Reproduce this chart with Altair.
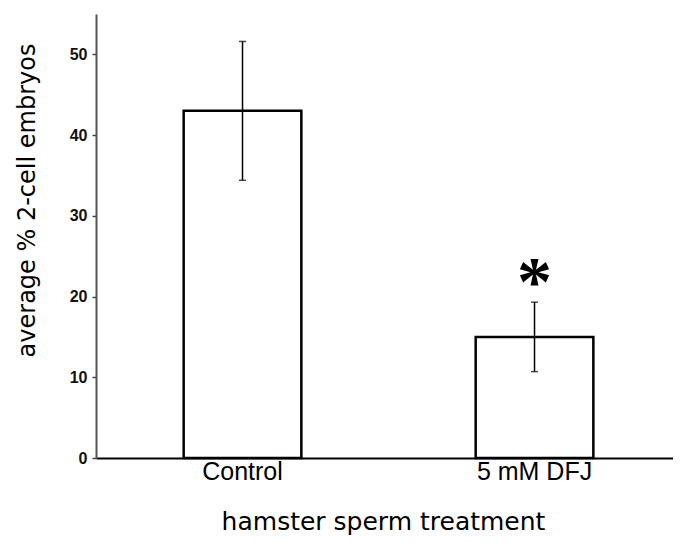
import altair as alt
import pandas as pd

categories = ["Control", "5 mM DFJ"]
means = [43.0, 15.0]
err_low = [34.4, 10.7]
err_high = [51.6, 19.3]
marker = ["", "*"]
marker_y = [0.0, 23.0]
y_ticks = [0, 10, 20, 30, 40, 50]

df = pd.DataFrame({
    "cat": categories,
    "mean": means,
    "lo": err_low,
    "hi": err_high,
    "marker": marker,
    "my": marker_y,
})

x = alt.X(
    "cat:N",
    sort=categories,
    scale=alt.Scale(paddingInner=0.597, paddingOuter=0.2865, align=0.524),
    axis=alt.Axis(
        title="hamster sperm treatment",
        labelAngle=0,
        ticks=False,
        labelPadding=1,
        labelFontSize=25,
        labelFont="Liberation Sans",
        labelColor="black",
        domainColor="black",
        domainWidth=2,
        titleFontSize=25,
        titleFont="DejaVu Sans",
        titleFontWeight="normal",
        titleColor="black",
        titleX=287,
        titleY=71,
        titleBaseline="alphabetic",
    ),
)

yscale = alt.Scale(domain=[0, 55], nice=False)

bars = alt.Chart(df).mark_bar(fill="white", stroke="black", strokeWidth=2.5).encode(
    x=x,
    y=alt.Y(
        "mean:Q",
        scale=yscale,
        axis=alt.Axis(
            title="average % 2-cell embryos",
            values=y_ticks,
            grid=False,
            tickSize=4,
            tickColor="#444",
            tickWidth=1.5,
            domainColor="#555",
            domainWidth=2,
            labelFont="Liberation Sans",
            labelFontWeight="bold",
            labelFontSize=16,
            labelColor="#111",
            labelPadding=5,
            titleFont="DejaVu Sans",
            titleFontSize=24,
            titleFontWeight="normal",
            titleColor="black",
            titleAngle=270,
            titleX=-69,
            titleY=186,
            titleBaseline="middle",
        ),
    ),
)

rules = alt.Chart(df).mark_rule(color="black", strokeWidth=1.5).encode(
    x=alt.X("cat:N", sort=categories),
    y=alt.Y("lo:Q", scale=yscale),
    y2="hi:Q",
)

cap_hi = alt.Chart(df).mark_tick(orient="horizontal", size=7, thickness=1.5, color="black").encode(
    x=alt.X("cat:N", sort=categories),
    y=alt.Y("hi:Q", scale=yscale),
)
cap_lo = alt.Chart(df).mark_tick(orient="horizontal", size=7, thickness=1.5, color="black").encode(
    x=alt.X("cat:N", sort=categories),
    y=alt.Y("lo:Q", scale=yscale),
)

star = alt.Chart(df).transform_filter("datum.marker != ''").mark_text(
    font="Liberation Serif", fontWeight="bold", fontSize=70, baseline="middle",
    color="black", dy=12,
).encode(
    x=alt.X("cat:N", sort=categories),
    y=alt.Y("my:Q", scale=yscale),
    text="marker:N",
)

chart = alt.layer(bars, rules, cap_hi, cap_lo, star).properties(
    width=577,
    height=444,
    padding={"left": 88, "top": 6, "right": 0, "bottom": 78},
    autosize=alt.AutoSizeParams(type="none"),
).configure_view(stroke=None)

chart.save("out.html", embed_options={"renderer": "svg", "actions": False})
